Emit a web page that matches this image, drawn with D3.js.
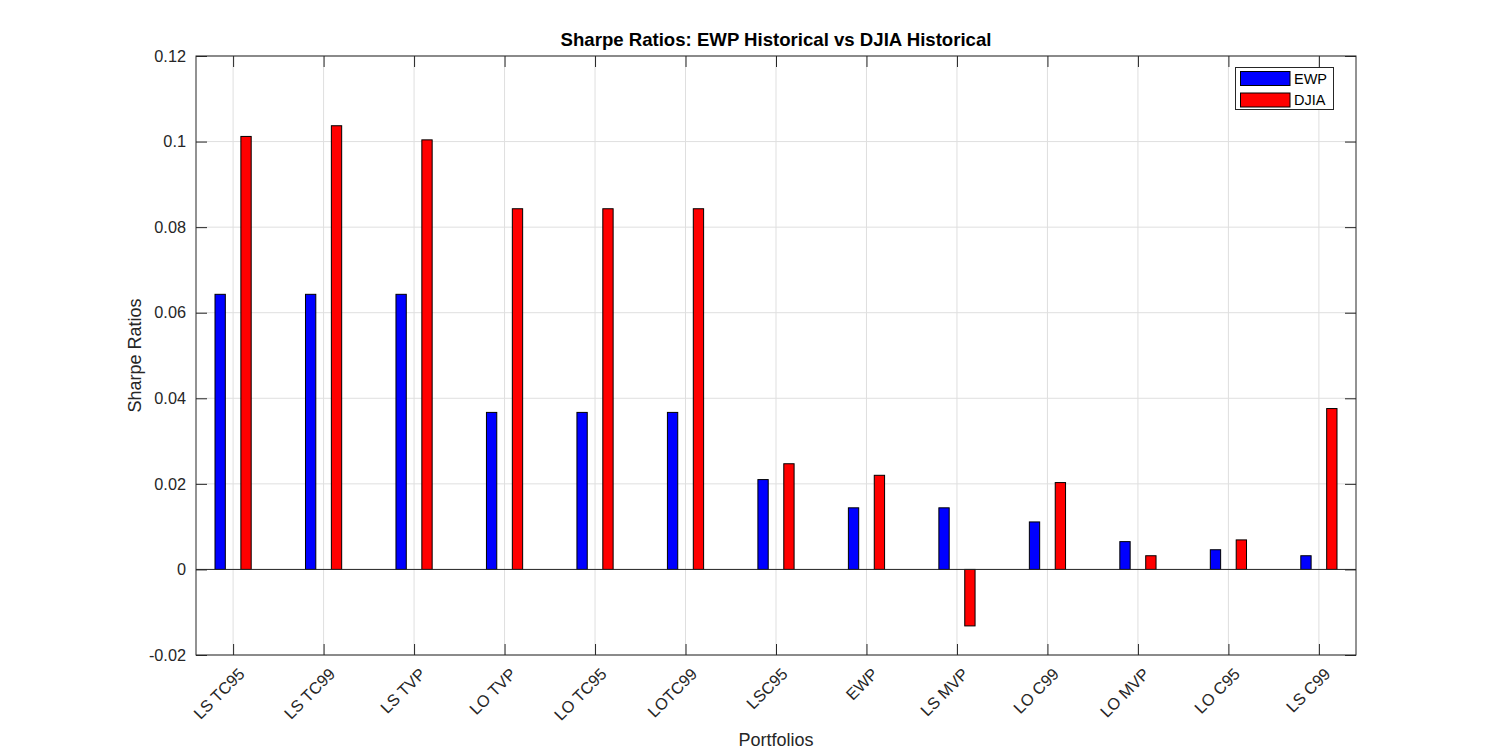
<!DOCTYPE html>
<html>
<head>
<meta charset="utf-8">
<script src="https://cdn.jsdelivr.net/npm/d3@7"></script>
<style>
  body { margin: 0; background: #fff; }
  text { font-family: "Liberation Sans", Arial, sans-serif; fill: #262626; }
</style>
</head>
<body>
<div id="chart"></div>
<script>
// 資料
const categories = ["LS TC95", "LS TC99", "LS TVP", "LO TVP", "LO TC95", "LOTC99", "LSC95",
                    "EWP", "LS MVP", "LO C99", "LO MVP", "LO C95", "LS C99"];
const ewp  = [0.0643, 0.0643, 0.0643, 0.0367, 0.0367, 0.0367, 0.0210, 0.0144, 0.0144, 0.0111, 0.0065, 0.0046, 0.0032];
const djia = [0.1012, 0.1037, 0.1004, 0.0843, 0.0843, 0.0843, 0.0247, 0.0220, -0.0132, 0.0203, 0.0032, 0.0069, 0.0376];
const yTicks = [-0.02, 0, 0.02, 0.04, 0.06, 0.08, 0.1, 0.12];
const seriesNames = ["EWP", "DJIA"];
const seriesColors = ["#0000ff", "#ff0000"];

const W = 1500, H = 750;
const pL = 196, pR = 1356, pT = 56, pB = 655;

const svg = d3.select("#chart").append("svg")
    .attr("width", W).attr("height", H);

// 比例尺
const x = d3.scaleLinear().domain([0.59, 13.41]).range([pL, pR]);
const y = d3.scaleLinear().domain([-0.02, 0.12]).range([pB, pT]);

const gridColor = "#dfdfdf", axisColor = "#262626";
const tickLen = 11;
const tickFont = 16.3, labelFont = 18;

// 格線
svg.append("g").selectAll("line")
    .data(categories)
    .enter().append("line")
    .attr("x1", (d, i) => x(i + 1)).attr("x2", (d, i) => x(i + 1))
    .attr("y1", pT).attr("y2", pB)
    .attr("stroke", gridColor).attr("stroke-width", 1);

svg.append("g").selectAll("line")
    .data(yTicks)
    .enter().append("line")
    .attr("x1", pL).attr("x2", pR)
    .attr("y1", d => y(d)).attr("y2", d => y(d))
    .attr("stroke", gridColor).attr("stroke-width", 1);

// 長條
const offset = 0.143, barW = 0.114;
const groups = [ewp, djia];
groups.forEach((vals, s) => {
    svg.append("g").selectAll("rect")
        .data(vals)
        .enter().append("rect")
        .attr("x", (d, i) => x(i + 1 + (s === 0 ? -offset : offset) - barW / 2))
        .attr("width", x(barW) - x(0))
        .attr("y", d => y(Math.max(0, d)))
        .attr("height", d => Math.abs(y(d) - y(0)))
        .attr("fill", seriesColors[s])
        .attr("stroke", "#000").attr("stroke-width", 1);
});

// 基準線
svg.append("line")
    .attr("x1", pL).attr("x2", pR)
    .attr("y1", y(0)).attr("y2", y(0))
    .attr("stroke", axisColor).attr("stroke-width", 1);

// 座標軸（內側刻度）
const xAxisB = d3.axisBottom(x).tickValues(d3.range(1, 14)).tickFormat((d) => categories[d - 1]).tickSizeInner(-tickLen).tickSizeOuter(0);
const gx = svg.append("g").attr("transform", `translate(0,${pB})`).call(xAxisB);
gx.select(".domain").remove();
gx.selectAll("line").attr("stroke", axisColor);
gx.selectAll("text")
    .attr("font-size", tickFont)
    .attr("text-anchor", "end")
    .attr("transform", "translate(8,16) rotate(-45)")
    .attr("dy", "0.35em").attr("y", 0).attr("x", 0)
    .style("fill", axisColor);

const gxT = svg.append("g").attr("transform", `translate(0,${pT})`)
    .call(d3.axisTop(x).tickValues(d3.range(1, 14)).tickFormat("").tickSizeInner(-tickLen).tickSizeOuter(0));
gxT.select(".domain").remove();
gxT.selectAll("line").attr("stroke", axisColor);

const gy = svg.append("g").attr("transform", `translate(${pL},0)`)
    .call(d3.axisLeft(y).tickValues(yTicks).tickFormat(d => d === 0 ? "0" : String(+d.toFixed(2))).tickSizeInner(-tickLen).tickSizeOuter(0).tickPadding(10));
gy.select(".domain").remove();
gy.selectAll("line").attr("stroke", axisColor);
gy.selectAll("text").attr("font-size", tickFont).style("fill", axisColor);

const gyR = svg.append("g").attr("transform", `translate(${pR},0)`)
    .call(d3.axisRight(y).tickValues(yTicks).tickFormat("").tickSizeInner(-tickLen).tickSizeOuter(0));
gyR.select(".domain").remove();
gyR.selectAll("line").attr("stroke", axisColor);

// 外框
svg.append("rect")
    .attr("x", pL).attr("y", pT)
    .attr("width", pR - pL).attr("height", pB - pT)
    .attr("fill", "none").attr("stroke", axisColor).attr("stroke-width", 1);

// 標題與軸標籤
svg.append("text")
    .attr("x", (pL + pR) / 2).attr("y", 46)
    .attr("text-anchor", "middle")
    .attr("font-size", 18.6).attr("font-weight", "bold")
    .style("fill", "#000")
    .text("Sharpe Ratios: EWP Historical vs DJIA Historical");

svg.append("text")
    .attr("x", (pL + pR) / 2).attr("y", 746)
    .attr("text-anchor", "middle")
    .attr("font-size", labelFont)
    .text("Portfolios");

svg.append("text")
    .attr("transform", `translate(141,${(pT + pB) / 2}) rotate(-90)`)
    .attr("text-anchor", "middle")
    .attr("font-size", labelFont)
    .text("Sharpe Ratios");

// 圖例
const lg = svg.append("g");
lg.append("rect")
    .attr("x", 1235.5).attr("y", 67.5).attr("width", 98).attr("height", 42)
    .attr("fill", "#fff").attr("stroke", axisColor).attr("stroke-width", 1);
seriesNames.forEach((name, i) => {
    lg.append("rect")
        .attr("x", 1240.5).attr("y", 71.5 + i * 21.5).attr("width", 49.5).attr("height", 14)
        .attr("fill", seriesColors[i]).attr("stroke", "#000").attr("stroke-width", 1);
    lg.append("text")
        .attr("x", 1294).attr("y", 78.5 + i * 21.5)
        .attr("dy", "0.35em")
        .attr("font-size", 14.5)
        .style("fill", "#000")
        .text(name);
});
</script>
</body>
</html>
